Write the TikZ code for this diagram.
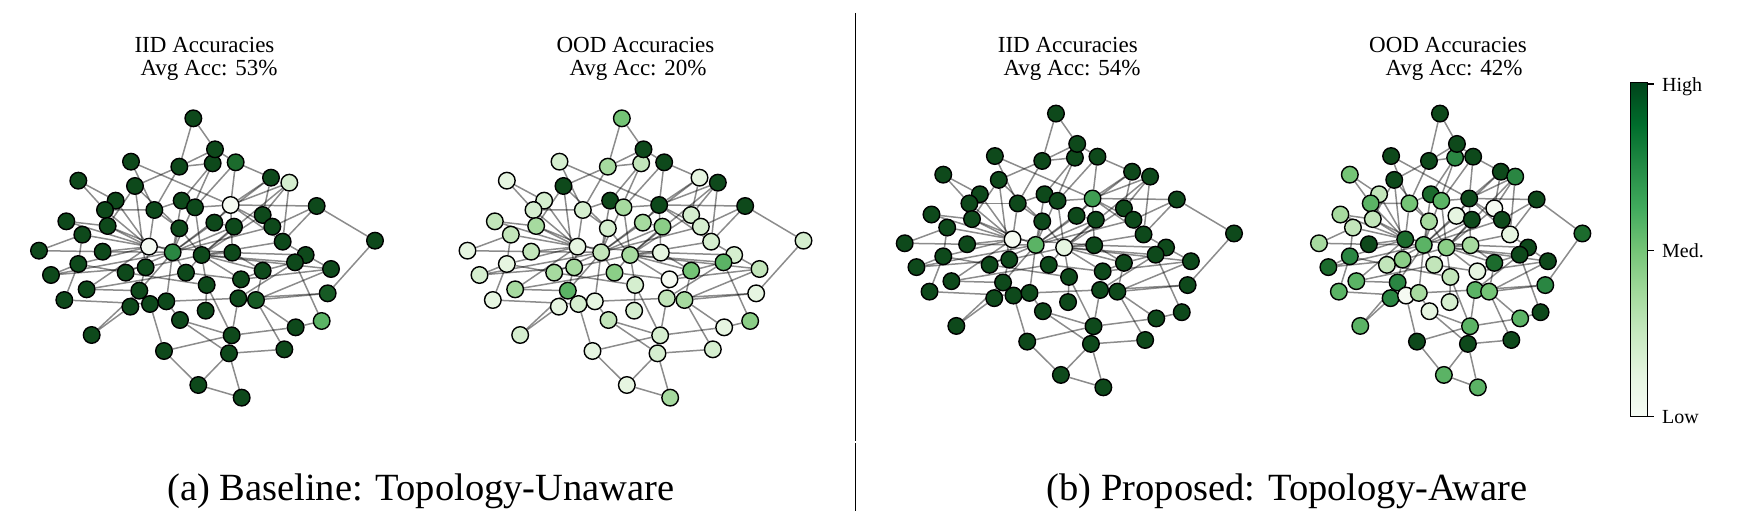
\documentclass[tikz,border=0pt]{standalone}
\usepackage{fontspec}
\setmainfont{Liberation Serif}
\pgfdeclarelayer{bg}
\pgfsetlayers{bg,main}
\definecolor{cW}{HTML}{F5FAF2}
\definecolor{cA}{HTML}{E6F5E1}
\definecolor{cB}{HTML}{D5EECF}
\definecolor{cC}{HTML}{C2E5BA}
\definecolor{cE}{HTML}{A6DA9F}
\definecolor{cF}{HTML}{8BCE87}
\definecolor{cG}{HTML}{74C476}
\definecolor{cH}{HTML}{5BB365}
\definecolor{cI}{HTML}{3F9D52}
\definecolor{cJ}{HTML}{2A8642}
\definecolor{cK}{HTML}{1C6B2D}
\definecolor{cDK}{HTML}{175A24}
\definecolor{cD}{HTML}{0E491B}
\definecolor{g0}{HTML}{F7FCF5}
\definecolor{g1}{HTML}{E5F5E0}
\definecolor{g2}{HTML}{C7E9C0}
\definecolor{g3}{HTML}{A1D99B}
\definecolor{g4}{HTML}{74C476}
\definecolor{g5}{HTML}{41AB5D}
\definecolor{g6}{HTML}{238B45}
\definecolor{g7}{HTML}{006D2C}
\definecolor{g8}{HTML}{00441B}
\pgfdeclareverticalshading{greens}{100bp}{color(0bp)=(g0); color(25bp)=(g0); color(31.25bp)=(g1); color(37.5bp)=(g2); color(43.75bp)=(g3); color(50bp)=(g4); color(56.25bp)=(g5); color(62.5bp)=(g6); color(68.75bp)=(g7); color(75bp)=(g8); color(100bp)=(g8)}

\def\nodelist{3/563/190, 1/505/55, 2/570/148, 4/632/187, 5/318/185, 6/463/200, 7/160/242, 8/330/258, 9/738/233, 10/793/248, 11/272/302, 12/240/330, 13/388/330, 14/470/302, 15/510/322, 16/617/315, 17/875/318, 18/124/364, 19/172/404, 20/248/378, 21/463/385, 22/568/368, 23/627/380, 24/713/345, 25/742/380, 26/773/425, 27/1050/422, 28/42/452, 29/233/455, 30/372/440, 31/443/457, 32/530/465, 33/622/458, 34/842/465, 35/810/487, 36/918/507, 37/160/492, 38/78/525, 39/302/518, 40/362/502, 41/483/518, 42/713/512, 43/648/538, 44/545/555, 45/185/568, 46/343/572, 47/118/600, 48/316/620, 49/375/612, 50/424/604, 51/640/595, 52/693/600, 53/908/580, 54/542/632, 55/465/660, 56/890/663, 57/812/682, 58/200/705, 59/620/706, 60/417/753, 61/612/760, 62/778/748, 63/520/855, 64/650/893}

\def\edgelist{1/6, 1/2, 2/4, 2/6, 3/6, 3/14, 3/31, 4/16, 4/9, 4/15,
5/16, 5/13, 6/8, 6/13, 7/11, 7/12, 8/40, 8/21, 8/20, 12/13,
13/14, 13/30, 13/21, 11/30, 12/30, 14/15, 15/16, 15/32, 14/31, 16/17,
16/9, 16/10, 16/25, 16/26, 16/22, 16/33, 9/31, 10/32, 10/24, 10/26,
9/24, 17/27, 17/25, 17/26, 22/31, 22/23, 23/32, 21/31, 24/32, 25/31,
26/34, 26/32, 27/53, 18/20, 18/30, 19/28, 19/37, 19/30, 20/30, 20/31,
29/30, 29/31, 28/29, 37/38, 37/39, 37/47, 37/30, 38/40, 39/31, 40/30,
40/46, 40/32, 41/31, 41/43, 41/32, 45/46, 45/41, 45/30, 46/48, 46/49,
46/31, 47/49, 48/58, 46/58, 49/60, 50/31, 50/51, 33/32, 33/42, 33/34,
33/30, 32/44, 32/43, 32/42, 32/35, 32/36, 34/35, 34/36, 35/56, 35/42,
35/51, 36/52, 42/43, 42/52, 43/51, 44/54, 44/59, 51/59, 51/52, 52/53,
52/57, 52/62, 55/59, 55/61, 55/50, 56/57, 57/59, 59/60, 59/61, 60/63,
61/63, 61/64, 63/64, 61/62, 53/51, 36/43, 23/31, 21/32, 39/44, 38/31}

% per-graph node colours
\foreach \i in {1,...,64}{\xglobal\colorlet{Ac\i}{cD}\xglobal\colorlet{Cc\i}{cD}}
\foreach \i/\c in {4/cK, 10/cB, 16/cW, 30/cW, 31/cJ, 52/cDK, 53/cDK, 56/cH}{\xglobal\colorlet{Ac\i}{\c}}
\foreach \i/\c in {16/cI, 30/cW, 31/cH, 32/cA}{\xglobal\colorlet{Cc\i}{\c}}
\foreach \i/\c in {1/cG, 2/cD, 3/cC, 4/cD, 5/cB, 6/cE, 7/cA, 8/cD, 9/cA, 10/cD,
11/cB, 12/cB, 13/cB, 14/cD, 15/cE, 16/cD, 17/cD, 18/cC, 19/cC, 20/cE,
21/cB, 22/cE, 23/cF, 24/cB, 25/cB, 26/cB, 27/cB, 28/cA, 29/cC, 30/cA,
31/cC, 32/cE, 33/cA, 34/cB, 35/cH, 36/cC, 37/cA, 38/cB, 39/cE, 40/cE,
41/cF, 42/cG, 43/cW, 44/cB, 45/cE, 46/cH, 47/cA, 48/cA, 49/cB, 50/cA,
51/cC, 52/cE, 53/cA, 54/cB, 55/cC, 56/cF, 57/cA, 58/cB, 59/cB, 60/cA,
61/cB, 62/cB, 63/cA, 64/cE}{\xglobal\colorlet{Bc\i}{\c}}
\foreach \i/\c in {1/cD, 2/cD, 3/cJ, 4/cD, 5/cD, 6/cD, 7/cG, 8/cD, 9/cD, 10/cJ,
11/cC, 12/cH, 13/cG, 14/cK, 15/cH, 16/cD, 17/cD, 18/cE, 19/cC, 20/cC,
21/cE, 22/cA, 23/cD, 24/cW, 25/cD, 26/cA, 27/cK, 28/cE, 29/cD, 30/cK,
31/cH, 32/cF, 33/cE, 34/cD, 35/cD, 36/cD, 37/cJ, 38/cK, 39/cC, 40/cF,
41/cC, 42/cK, 43/cA, 44/cC, 45/cH, 46/cJ, 47/cH, 48/cJ, 49/cW, 50/cE,
51/cH, 52/cG, 53/cJ, 54/cB, 55/cA, 56/cD, 57/cH, 58/cH, 59/cH, 60/cD,
61/cD, 62/cD, 63/cH, 64/cH}{\xglobal\colorlet{Dc\i}{\c}}

\newcommand{\drawnet}[2]{%
  \begin{scope}[#2]
    \foreach \i/\x/\y in \nodelist {\node[nd, fill=#1c\i] (#1n\i) at (\x,\y) {};}
    \begin{pgfonlayer}{bg}
      \foreach \a/\b in \edgelist {\draw[lnk] (#1n\a) -- (#1n\b);}
    \end{pgfonlayer}
  \end{scope}}

\tikzset{
  nd/.style={circle, draw=black, line width=1.4pt, minimum size=16.6pt, inner sep=0pt},
  lnk/.style={draw=black, draw opacity=0.45, line width=1.5pt},
  ttl/.style={font=\fontsize{23}{27}\selectfont, inner sep=0pt, anchor=base},
  captxt/.style={font=\fontsize{38.5}{44}\selectfont, inner sep=0pt, anchor=base},
  cbl/.style={font=\fontsize{20}{24}\selectfont, inner sep=0pt, anchor=base west}
}

\begin{document}
\begin{tikzpicture}[x=1pt, y=-1pt]
\useasboundingbox (0,0) rectangle (1741,519);

\drawnet{A}{shift={(25,100)}, scale=0.33333}
\drawnet{B}{shift={(453.5,100)}, scale=0.33333}
\drawnet{C}{shift={(890.98,95.6)}, scale=0.3267}
\drawnet{D}{shift={(1308,95.6)}, xscale=0.2613, yscale=0.3267}

% titles
\node[ttl] (t1a) at (204.5,53) {IID Accuracies};
\node[ttl] (t1b) at (209,76) {Avg Acc: 53\%};
\node[ttl] (t2a) at (635.5,53) {OOD Accuracies};
\node[ttl] (t2b) at (638,76) {Avg Acc: 20\%};
\node[ttl] (t3a) at (1067.8,53) {IID Accuracies};
\node[ttl] (t3b) at (1072,76) {Avg Acc: 54\%};
\node[ttl] (t4a) at (1448,53) {OOD Accuracies};
\node[ttl] (t4b) at (1454,76) {Avg Acc: 42\%};

% captions
\node[captxt] (capa) at (421,500) {(a) Baseline: Topology-Unaware};
\node[captxt] (capb) at (1287,500) {(b) Proposed: Topology-Aware};

% divider
\draw[line width=1.2pt] (855.3,13) -- (855.3,441);
\draw[line width=1.2pt] (855.3,443) -- (855.3,511);

% colour bar
\shade[shading=greens] (1630,83) rectangle (1647.5,416.5);
\draw[line width=1pt] (1630,83) rectangle (1647.5,416.5);
\draw[line width=1.2pt] (1647.5,84) -- (1654,84);
\draw[line width=1.2pt] (1647.5,250.5) -- (1654,250.5);
\draw[line width=1.2pt] (1647.5,416.5) -- (1654,416.5);
\node[cbl] (hi) at (1662,91.5) {High};
\node[cbl] (md) at (1662,257.5) {Med.};
\node[cbl] (lo) at (1662,423.5) {Low};
\end{tikzpicture}
\end{document}
